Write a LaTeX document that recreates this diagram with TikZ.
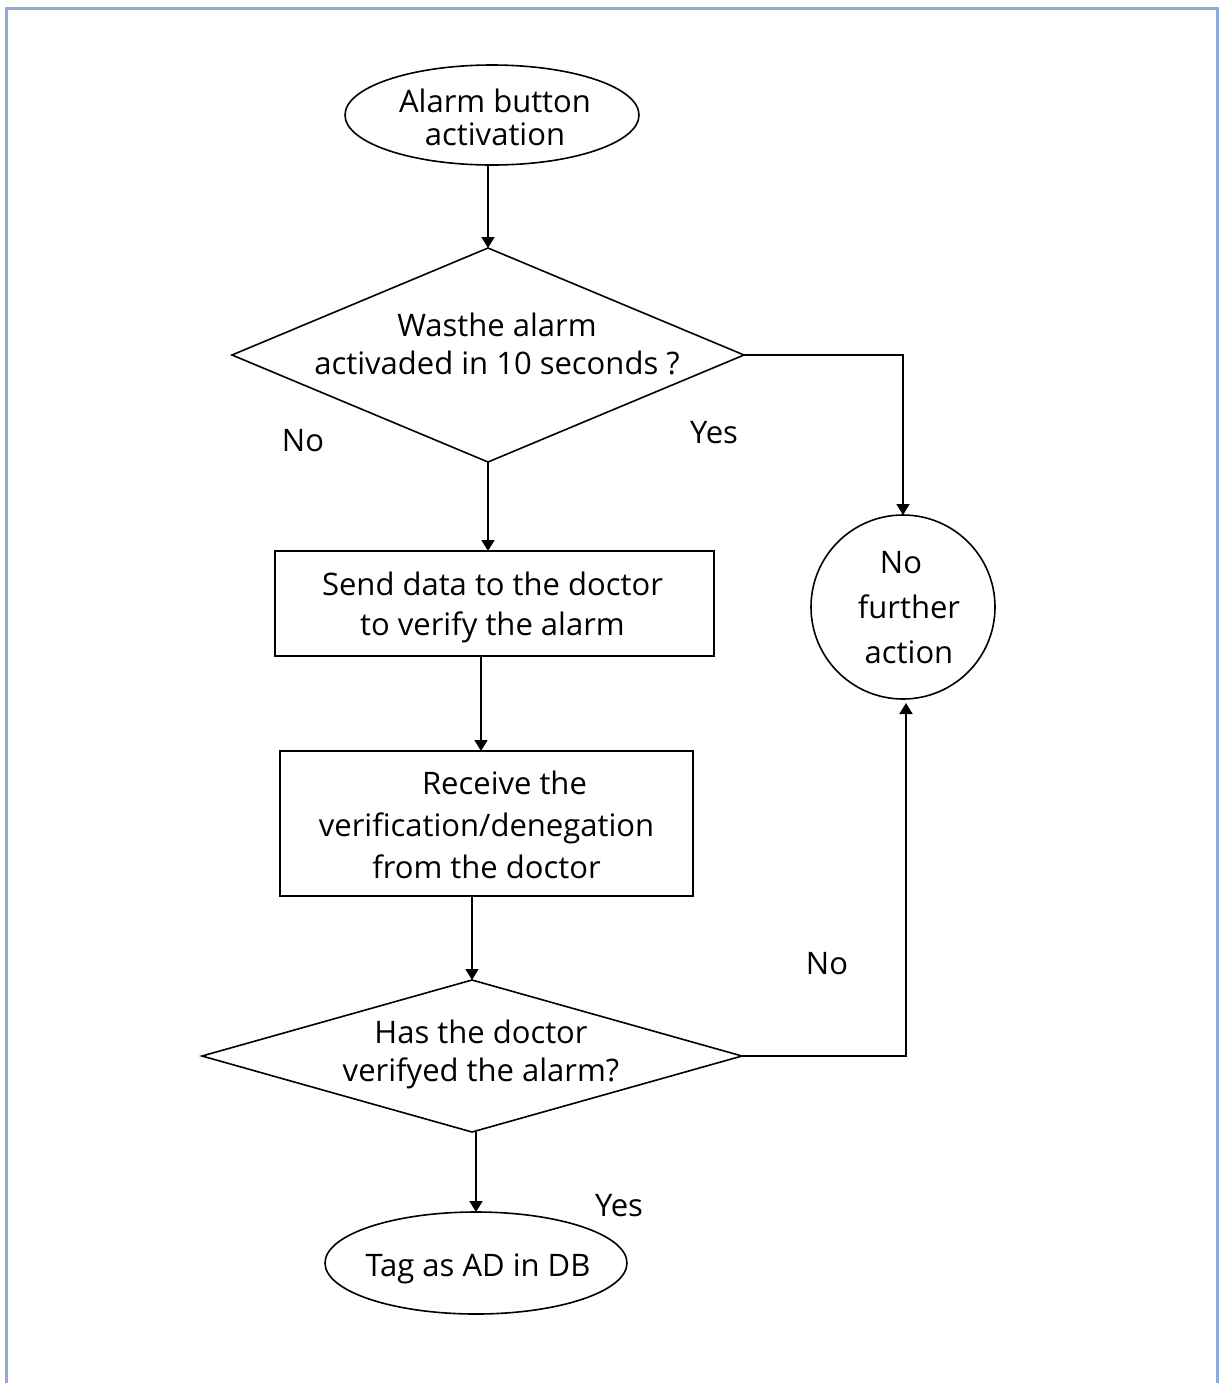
\documentclass[tikz,border=0pt]{standalone}
\usepackage{fontspec}
\setmainfont{Open Sans}
\usetikzlibrary{shapes.geometric,arrows.meta,calc}
\newdimen\pxu \pxu=0.5pt
% zero-size centred text block: #1 dx(px) #2 dy(px, down) #3 baselineskip(px) #4 text
\newcommand\zb[4]{\makebox[0pt]{\kern\dimexpr 2\pxu*#1\relax\raisebox{\dimexpr -5.5pt-#2\pxu\relax}[0pt][0pt]{\fontsize{15.5}{\dimexpr #3\pxu\relax}\selectfont\begin{tabular}{@{}c@{}}#4\end{tabular}}}}
\definecolor{frame}{HTML}{8FAADC}
\begin{document}
\begin{tikzpicture}[x=0.5pt,y=-0.5pt,
  shp/.style={draw,line width=0.8pt,inner sep=0pt,outer sep=0pt},
  oval/.style={shp,ellipse},
  dia/.style={shp,diamond},
  box/.style={shp,rectangle},
  circ/.style={shp,circle},
  arr/.style={line width=0.9pt,-{Triangle[width=6.5pt,length=5.5pt]}},
  lbl/.style={font=\fontsize{15.5}{18}\selectfont,inner sep=0pt}]
\useasboundingbox (0,0) rectangle (1221,1383);
\draw[frame,line width=1.5pt] (6,1390) -- (6,8) -- (1217,8) -- (1217,1390);

\node[oval,minimum width=147pt,minimum height=50pt] (e1) at (492,115) {\zb{3}{3}{33}{Alarm button\\activation}};
\node[dia,minimum width=256pt,minimum height=107pt] (d1) at (488,355) {\zb{9}{-11}{38}{Wasthe alarm\\activaded in 10 seconds ?}};
\node[box,minimum width=219.5pt,minimum height=52.5pt] (r1) at (494.5,603.5) {\zb{-2}{0}{40}{Send data to the doctor\\to verify the alarm}};
\node[box,minimum width=206.5pt,minimum height=72.5pt] (r2) at (486.5,823.5) {\zb{0}{1}{42}{\kern 36\pxu Receive the\\verification/denegation\\from the doctor}};
\node[dia,minimum width=270pt,minimum height=76pt] (d2) at (472,1056) {\zb{9}{-5}{38}{Has the doctor\\verifyed the alarm?}};
\node[oval,minimum width=151pt,minimum height=51pt] (e2) at (476,1263) {\zb{2}{3}{33}{Tag as AD in DB}};
\node[circ,minimum size=92pt] (c) at (903,607) {\zb{6}{-1}{45}{\kern -16\pxu No\\further\\action}};

\node[lbl] (n1) at (303,441) {No};
\node[lbl] (y1) at (714,433) {Yes};
\node[lbl] (n2) at (827,964) {No};
\node[lbl] (y2) at (619,1206) {Yes};

\draw[arr] (d1.north |- e1.south) -- (d1.north);
\draw[arr] (d1.south) -- (d1.south |- r1.north);
\draw[arr] ([xshift=-6.75pt]r1.south) -- ([xshift=-2.75pt]r2.north);
\draw[arr] (d2.north |- r2.south) -- (d2.north);
\draw[arr] (e2.north |- d2.south) -- (e2.north);
\draw[arr] (d1.east) -| (c.north);
\draw[arr] (d2.east) -| ([xshift=1.5pt,yshift=-2pt]c.south);
\end{tikzpicture}
\end{document}
